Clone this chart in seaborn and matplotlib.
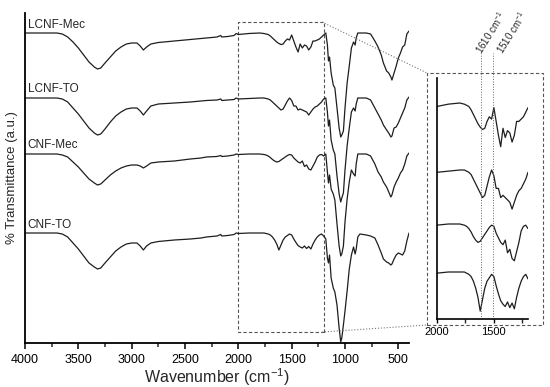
import pandas as pd
import matplotlib
matplotlib.use("Agg")
import matplotlib.pyplot as plt
import seaborn as sns
from matplotlib.patches import Rectangle
from matplotlib.lines import Line2D
from matplotlib.ticker import MultipleLocator

# shared wavenumber grid (cm-1)
wavenumber = [
    4000, 3800, 3700, 3650, 3600, 3550, 3500, 3450, 3400, 3350,
    3320, 3290, 3250, 3200, 3150, 3100, 3050, 3000, 2950, 2920,
    2890, 2860, 2820, 2750, 2600, 2450, 2350, 2300, 2200, 2165,
    2155, 2100, 2040, 2020, 2000,
    1900, 1800, 1760, 1740, 1720, 1700, 1680, 1660, 1640, 1620,
    1600, 1580, 1560, 1540, 1520, 1500, 1480, 1460, 1440, 1420,
    1400, 1380, 1360, 1340, 1320, 1300, 1280, 1260, 1240, 1220,
    1200,
    1180, 1165, 1155, 1145, 1130, 1110, 1095, 1075, 1055, 1040,
    1030, 1015, 1000, 980, 960, 940, 920, 905, 895, 880,
    860, 800, 760, 720, 690, 660, 640, 610, 590, 570,
    560, 540, 520, 500, 480, 460, 440, 420, 400,
]

# absorption depth below each baseline (a.u.)
lcnf_mec = [
    0, 0, 0, 1, 4, 9, 15, 22, 29, 34,
    36, 35, 30, 24, 18, 14, 11, 10, 10, 13,
    17, 14, 11, 9.5, 8, 6.5, 5.5, 5, 4, 2.5,
    4, 3.5, 2.5, 0.5, 1.5,
    0.5, 0, 0.5, 1, 1.5, 3, 5, 7, 9, 10.5,
    11.5, 11, 8, 6, 7, 2, 8, 14, 19, 11,
    15, 12, 13, 17, 14, 8, 8, 7, 6, 4,
    2,
    0, 12, 28, 24, 40, 52, 55, 75, 95, 104,
    102, 98, 75, 50, 33, 15, 9, 12, 5, 0,
    0, 0, 1, 8, 14, 22, 30, 38, 40, 44,
    47, 40, 33, 25, 20, 14, 12, 1, -2,
]
lcnf_to = [
    0, 0, 0, 1, 4, 10, 16, 23, 30, 35,
    37, 36, 31, 24, 18, 14, 11, 10, 10, 13,
    17, 13, 8, 6, 5, 4, 3, 2.5, 2, 1,
    2.5, 2, 1.5, 0, 1,
    0.5, 0, 0, 0.5, 1, 2, 4, 6, 8, 10,
    12, 11, 7, 3, 0, 2.5, 8, 8, 12, 11,
    12, 13, 14, 17, 14, 11, 9, 8, 6, 4,
    1,
    0, 14, 28, 22, 42, 52, 56, 78, 96, 104,
    100, 95, 72, 48, 30, 14, 10, 13, 6, 0,
    0, 0, 2, 10, 16, 22, 27, 32, 35, 39,
    38, 30, 29, 25, 20, 15, 10, 2, -1,
]
cnf_mec = [
    0, 0, 0, 1, 3, 8, 13, 19, 25, 29,
    31, 30, 26, 21, 17, 14, 12, 11, 11, 12,
    14, 12, 9, 8, 7, 5, 4, 3, 2.5, 1.5,
    2.5, 2, 1, 0, 0.5,
    0, 0, 0.5, 1, 2, 3.5, 5.5, 7, 8, 7.5,
    6, 4.5, 3, 1.5, 0.5, 1, 4, 6, 8, 9,
    7, 12.5, 11, 15, 16, 12, 8, 3, 1, 0.5,
    2,
    0, 18, 29, 21, 35, 40, 46, 70, 92, 102,
    100, 92, 68, 45, 28, 16, 20, 22, 10, 0,
    0, 0, 2, 10, 18, 23, 28, 33, 38, 43,
    41, 33, 28, 24, 19, 16, 10, 2, -1,
]
cnf_to = [
    0, 0, 0, 1, 4, 10, 16, 23, 30, 34,
    36, 35, 30, 24, 18, 14, 11, 10, 10, 13,
    17, 13, 10, 8.5, 7, 6, 5, 4, 3, 1.5,
    3, 2.5, 1.5, 0, 0.5,
    0, 0, 0, 0.5, 1, 2, 4, 7, 11, 17,
    12, 7, 4, 2.5, 1, 2, 6, 9.5, 12.5, 14,
    15, 13, 15.5, 13.5, 16, 11, 7, 4, 2, 1,
    3,
    6, 25, 30, 22, 45, 55, 59, 72, 95, 109,
    105, 92, 78, 58, 36, 22, 14, 21, 16, 4,
    1, 2, 3, 5, 12, 20, 26, 29, 30, 32,
    31, 26, 22, 20, 21, 22, 18, 8, 0,
]

samples = ["LCNF-Mec", "LCNF-TO", "CNF-Mec", "CNF-TO"]
main_offset = [310, 245, 189, 110]
inset_offset = [216, 149, 95, 47]
inset_scale = 2.3
band_lines = [1610, 1510]

# build long table
frames = []
for name, depth, off, ioff in zip(samples, [lcnf_mec, lcnf_to, cnf_mec, cnf_to],
                                  main_offset, inset_offset):
    df = pd.DataFrame({"Wavenumber": wavenumber, "Depth": depth})
    df["Sample"] = name
    df["Main"] = off - df["Depth"]
    df["Inset"] = ioff - inset_scale * df["Depth"]
    frames.append(df)
spectra = pd.concat(frames, ignore_index=True)

sns.set_theme(style="ticks")
plt.rcParams["font.family"] = ["Liberation Sans", "DejaVu Sans"]
plt.rcParams["mathtext.fontset"] = "custom"
plt.rcParams["mathtext.rm"] = "Liberation Sans"
plt.rcParams["mathtext.it"] = "Liberation Sans"

W, H = 550, 387
fig = plt.figure(figsize=(5.5, 3.87), dpi=100)
line_col = "#1e1e1e"
pal = [line_col] * 4

# main plot
ax = fig.add_axes([25 / W, 44 / H, 384 / W, 330 / H])
sns.lineplot(data=spectra, x="Wavenumber", y="Main", hue="Sample", palette=pal,
             estimator=None, sort=False, legend=False, lw=0.9, ax=ax)
ax.set_xlim(4000, 400)
ax.set_ylim(0, 330)
ax.set_yticks([])
ax.xaxis.set_major_locator(MultipleLocator(500))
ax.xaxis.set_minor_locator(MultipleLocator(250))
ax.tick_params(axis="x", which="major", direction="out", length=4, width=1.1,
               labelsize=9, pad=4, colors="black")
ax.tick_params(axis="x", which="minor", direction="out", length=3, width=1.1)
sns.despine(ax=ax)
for s in ["left", "bottom"]:
    ax.spines[s].set_linewidth(1.3)
    ax.spines[s].set_color("black")
ax.set_xlabel("Wavenumber (cm$^{-1}$)", fontsize=11.5, labelpad=0)
ax.set_ylabel("% Transmittance (a.u.)", fontsize=9.5, labelpad=5)

for name, off in zip(samples, main_offset):
    ax.text(3975, off + 8.5, name, fontsize=8.5, va="center", ha="left")

# zoom region on the main plot
ax.add_patch(Rectangle((1200, 11), 800, 310, fill=False, ls=(0, (3, 2)),
                       lw=0.8, ec="#555555", clip_on=False))

# inset frame and connectors
fig.patches.append(Rectangle((427 / W, 62 / H), 116 / W, 252 / H, fill=False,
                             ls=(0, (3, 2)), lw=0.8, ec="#555555",
                             transform=fig.transFigure))
fig.lines.append(Line2D([322 / W, 427 / W], [365 / H, 314 / H], ls=":", lw=0.8,
                        color="#777777", transform=fig.transFigure))
fig.lines.append(Line2D([322 / W, 427 / W], [55 / H, 62 / H], ls=":", lw=0.8,
                        color="#777777", transform=fig.transFigure))

# inset plot
ax_in = fig.add_axes([437 / W, 68 / H, 91 / W, 241 / H])
inset_data = spectra[(spectra["Wavenumber"] <= 2000) & (spectra["Wavenumber"] >= 1200)]
sns.lineplot(data=inset_data, x="Wavenumber", y="Inset", hue="Sample", palette=pal,
             estimator=None, sort=False, legend=False, lw=0.9, ax=ax_in)
ax_in.set_xlim(2000, 1200)
ax_in.set_ylim(0, 241)
ax_in.set_yticks([])
ax_in.set_xticks([2000, 1500])
ax_in.xaxis.set_minor_locator(MultipleLocator(250))
ax_in.tick_params(axis="x", which="major", direction="out", length=3, width=1,
                  labelsize=8, pad=3, colors="black")
ax_in.tick_params(axis="x", which="minor", direction="out", length=3, width=1)
ax_in.set_xlabel("")
ax_in.set_ylabel("")
sns.despine(ax=ax_in)
for s in ["left", "bottom"]:
    ax_in.spines[s].set_linewidth(1.2)
    ax_in.spines[s].set_color("black")

# band markers; labels start just left of 1610 and right of 1510
label_shift = [30, -55]
for wn, dx in zip(band_lines, label_shift):
    ax_in.plot([wn, wn], [0, 266], ls=":", lw=0.7, color="#666666", clip_on=False)
    ax_in.text(wn + dx, 267, f"{wn} cm$^{{-1}}$", fontsize=7, rotation=58,
               rotation_mode="anchor", ha="left", va="center")

fig.savefig("out.png", dpi=100)
